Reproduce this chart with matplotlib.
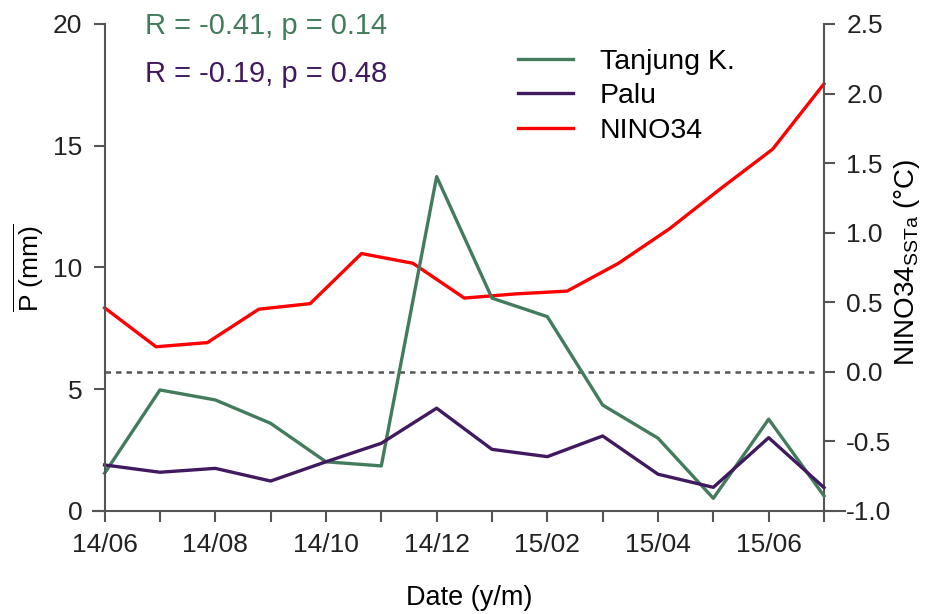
import numpy as np
import matplotlib.pyplot as plt

plt.rcParams['font.family'] = ['Liberation Sans', 'DejaVu Sans']
plt.rcParams['mathtext.fontset'] = 'custom'
plt.rcParams['mathtext.rm'] = 'Liberation Sans'
plt.rcParams['mathtext.it'] = 'Liberation Sans:italic'

# monthly precipitation anomalies (mm), 2014/06 - 2015/07
months = ['14/06', '14/07', '14/08', '14/09', '14/10', '14/11', '14/12',
          '15/01', '15/02', '15/03', '15/04', '15/05', '15/06', '15/07']
tanjung = [1.55, 4.97, 4.56, 3.60, 2.02, 1.85, 13.73,
           8.74, 7.98, 4.35, 2.99, 0.52, 3.77, 0.62]
palu = [1.89, 1.59, 1.75, 1.23, 2.02, 2.78, 4.22,
        2.53, 2.23, 3.08, 1.51, 0.97, 3.01, 0.96]

# NINO34 SST anomaly (deg C)
nino34 = [0.46, 0.18, 0.21, 0.45, 0.49, 0.85, 0.78, 0.53,
          0.56, 0.58, 0.78, 1.03, 1.32, 1.60, 2.07]

stats = [('R = -0.41, p = 0.14', '#437c5d'),
         ('R = -0.19, p = 0.48', '#40195f')]

green = '#437c5d'
purple = '#40195f'
red = '#ff0000'
axcol = '#555555'

x = np.arange(len(months))
x_nino = np.linspace(0, len(months) - 1, len(nino34))

fig = plt.figure(figsize=(9.28, 6.14), dpi=100)
ax = fig.add_axes([0.1002, 0.1678, 0.8104, 0.7932])
ax2 = ax.twinx()
ax.set_zorder(ax2.get_zorder() + 1)
ax.patch.set_visible(False)

ax.plot(x, tanjung, color=green, lw=2.4, label='Tanjung K.')
ax.plot(x, palu, color=purple, lw=2.4, label='Palu')
l3, = ax2.plot(x_nino, nino34, color=red, lw=2.4, label='NINO34')
ax2.hlines(0, 0, len(months) - 1.1, colors=axcol, linestyles=(0, (2.2, 2.0)), lw=1.8)

ax.set_xlim(-0.21, 13.38)
ax.set_ylim(0, 20)
ax2.set_ylim(-1.0, 2.5)

ax.set_xticks(x)
ax.set_xticklabels([m if i % 2 == 0 else '' for i, m in enumerate(months)])
ax.set_yticks([0, 5, 10, 15, 20])
ax2.set_yticks(np.arange(-1.0, 2.51, 0.5))
ax2.set_yticklabels(['%.1f' % v for v in np.arange(-1.0, 2.51, 0.5)])

for a in (ax, ax2):
    a.spines['top'].set_visible(False)
    for s in a.spines.values():
        s.set_color(axcol)
        s.set_linewidth(1.5)
    a.tick_params(length=8, width=1.5, color=axcol, labelsize=19,
                  labelcolor='#222222', direction='out', pad=8)
ax.spines['right'].set_visible(False)
ax.spines['left'].set_position(('data', 0))
ax2.spines['left'].set_visible(False)
ax2.spines['bottom'].set_visible(False)
ax2.spines['right'].set_position(('data', 13))

ax.set_xlabel('Date (y/m)', fontsize=19.5, va='center')
ax.xaxis.set_label_coords(0.5, -0.179)
ax.set_ylabel(r'$\overline{\mathrm{P\ (mm)}}$', fontsize=19, va='center', ha='center')
ax.yaxis.set_label_coords(-0.085, 0.5)
ax2.set_ylabel(r'NINO34$_{\mathrm{SSTa}}$ (°C)', fontsize=20, va='center', ha='center')
ax2.yaxis.set_label_coords(1.083, 0.511)

for i, (txt, c) in enumerate(stats):
    ax.text(0.069, 0.995 - i * 0.098, txt, color=c, fontsize=21,
            transform=ax.transAxes, va='center', ha='left')

h, lab = ax.get_legend_handles_labels()
ax.legend(h + [l3], lab + ['NINO34'], loc='upper left', bbox_to_anchor=(0.565, 0.949),
          frameon=False, fontsize=20.5, handlelength=1.93, handletextpad=0.95,
          labelspacing=0.3, borderpad=0, borderaxespad=0)

fig.savefig('out.png', dpi=100)
